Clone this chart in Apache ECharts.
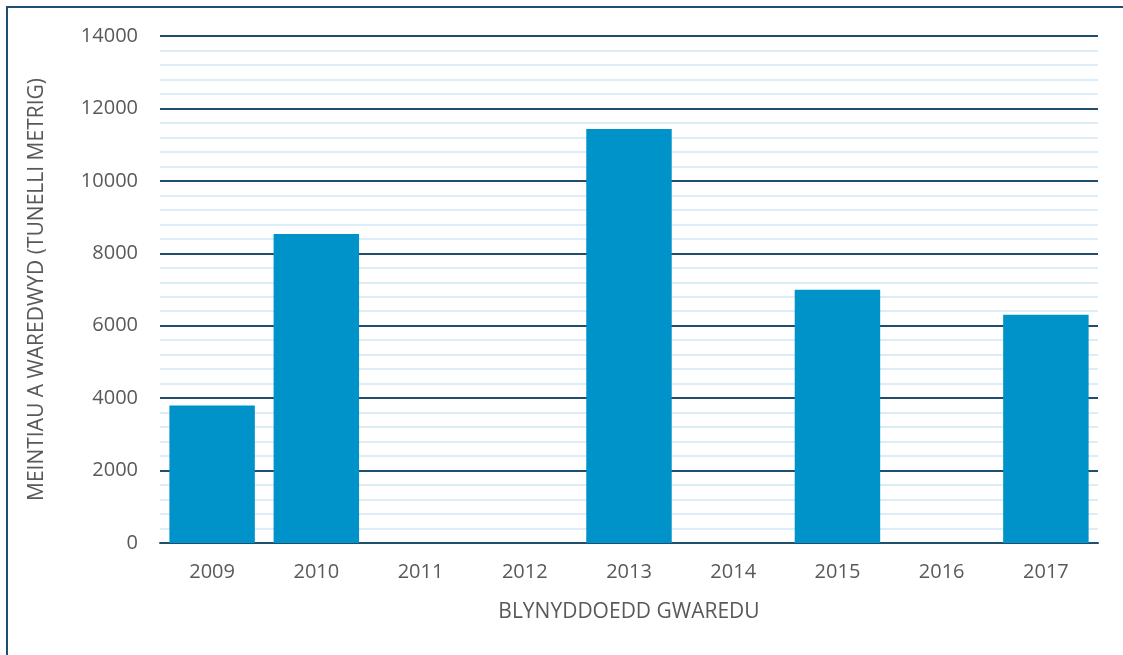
<!DOCTYPE html>
<html>
<head>
<meta charset="utf-8">
<script src="https://cdn.jsdelivr.net/npm/echarts@6/dist/echarts.min.js"></script>
<style>
  html, body { margin: 0; padding: 0; background: #fff; }
</style>
</head>
<body>
<div id="main" style="width:1123px;height:655px"></div>
<script>
// blynyddoedd
var years = ['2009', '2010', '2011', '2012', '2013', '2014', '2015', '2016', '2017']
// meintiau a waredwyd (tunelli metrig)
var amounts = [3800, 8530, 0, 0, 11430, 0, 6990, 0, 6300]

var myChart = echarts.init(document.getElementById('main'))
var font = '"Open Sans", "Noto Sans", sans-serif'
var option = {
  animation: false,
  textStyle: { fontFamily: font },
  grid: {
    left: 160,
    right: 25,
    top: 36,
    bottom: 112
  },
  graphic: [
    {
      type: 'polyline',
      shape: { points: [[7, 700], [7, 7], [1130, 7]] },
      style: { stroke: '#1f4e6e', lineWidth: 2, fill: null }
    }
  ],
  xAxis: {
    type: 'category',
    data: years,
    name: 'BLYNYDDOEDD GWAREDU',
    nameLocation: 'middle',
    nameGap: 59,
    nameTextStyle: { color: '#595959', fontSize: 21, fontFamily: font },
    axisTick: { show: false },
    axisLine: { lineStyle: { color: '#1f4e6e', width: 2 } },
    axisLabel: { color: '#595959', fontSize: 20, margin: 19, fontFamily: font }
  },
  yAxis: {
    type: 'value',
    min: 0,
    max: 14000,
    interval: 2000,
    name: 'MEINTIAU A WAREDWYD (TUNELLI METRIG)',
    nameLocation: 'middle',
    nameGap: 112,
    nameTextStyle: { color: '#595959', fontSize: 21, fontFamily: font },
    axisLine: { show: false },
    axisTick: { show: false },
    axisLabel: {
      color: '#595959',
      fontSize: 20,
      margin: 22,
      fontFamily: font,
      formatter: function (v) { return String(v) }
    },
    splitLine: { lineStyle: { color: '#1f4e6e', width: 2 } },
    minorTick: { show: false, splitNumber: 5 },
    minorSplitLine: { show: true, lineStyle: { color: '#dcedf7', width: 2 } }
  },
  series: [
    {
      type: 'bar',
      data: amounts,
      barCategoryGap: '18%',
      itemStyle: { color: '#0093c9' }
    }
  ]
}
myChart.setOption(option)
</script>
</body>
</html>
